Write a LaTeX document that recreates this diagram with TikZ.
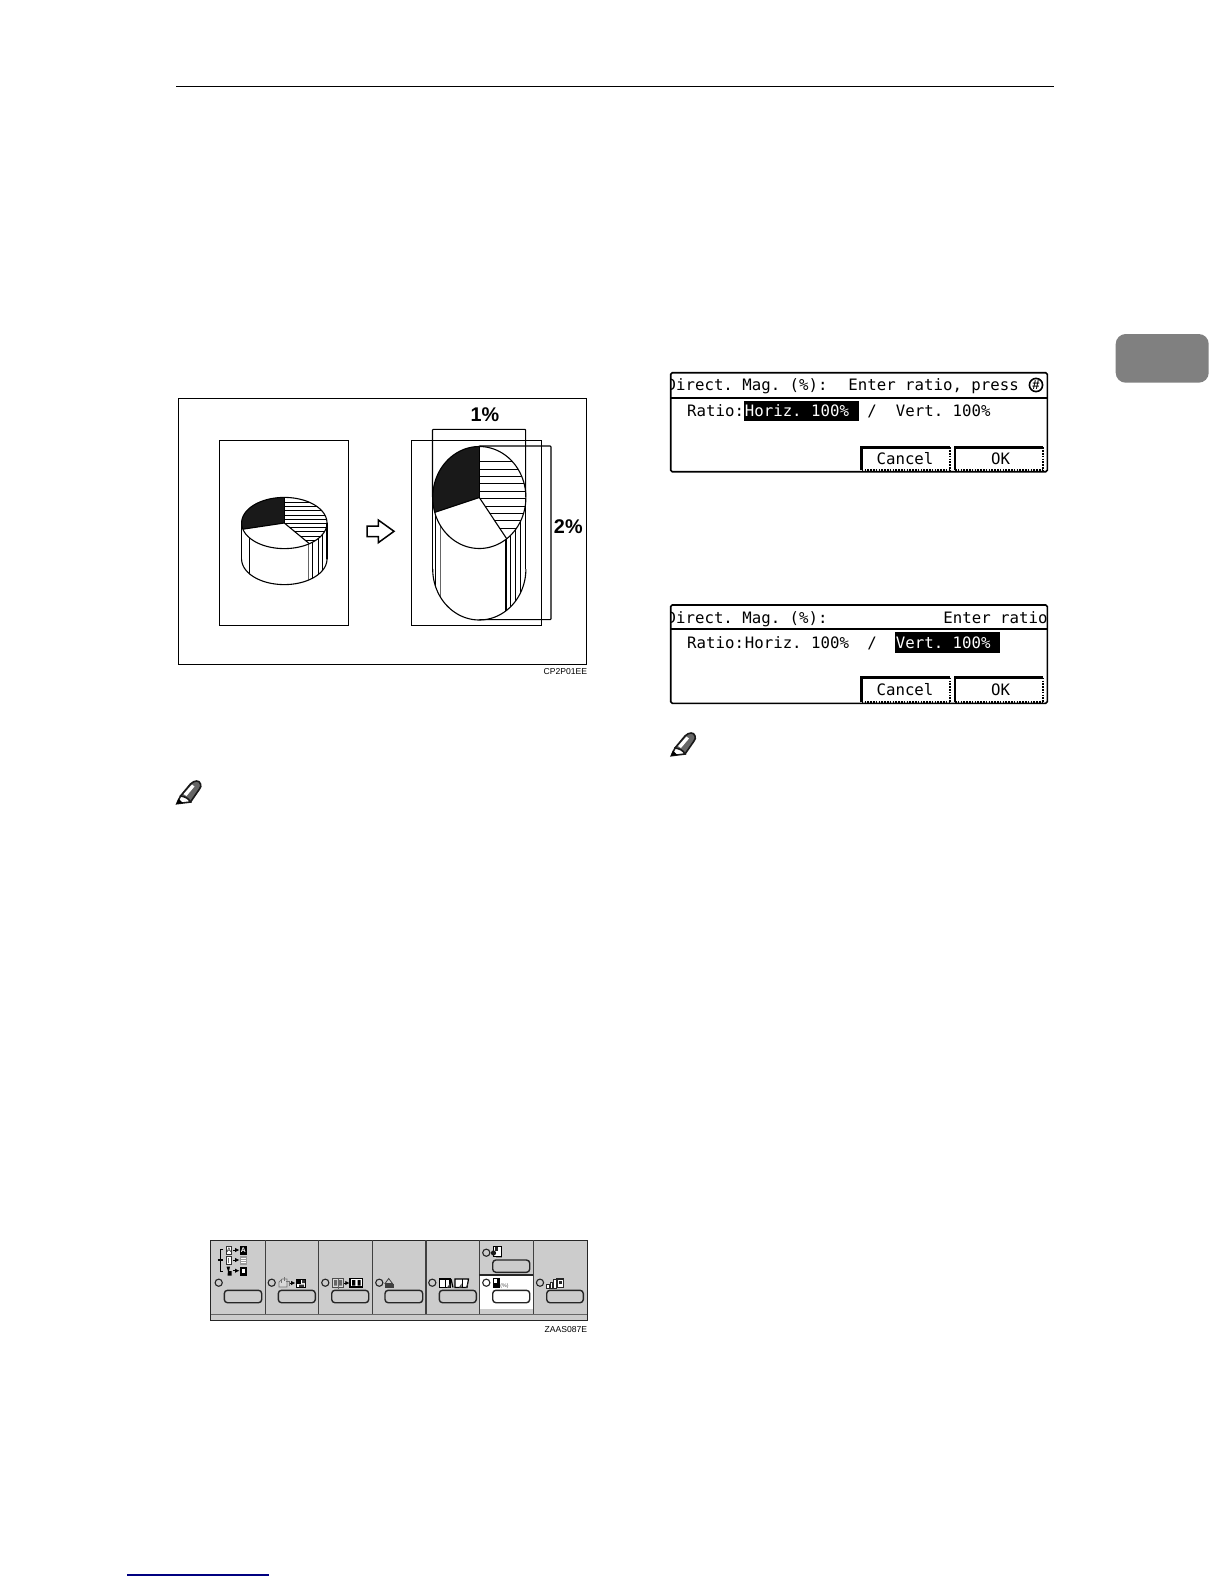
\documentclass[tikz,border=0pt]{standalone}
\usepackage{fontspec}
\usetikzlibrary{arrows.meta}
\setmainfont{Liberation Sans}
\newfontfamily\lcd{DejaVu Sans Mono}
\definecolor{panelgray}{gray}{0.80}
\definecolor{tabgray}{gray}{0.50}
\definecolor{navyline}{RGB}{0,0,128}
\tikzset{
  x=0.5pt,y=-0.5pt,
  thinline/.style={line width=0.55pt,black},
  midline/.style={line width=0.65pt,black},
  lcdtext/.style={anchor=base west,inner sep=0pt,font=\lcd\fontsize{7.86}{9}\selectfont\frenchspacing},
  lcdinv/.style={lcdtext,text=white},
  pct/.style={inner sep=0pt,font=\fontsize{9.9}{11}\selectfont\bfseries},
  code/.style={anchor=base east,inner sep=0pt,font=\fontsize{4.3}{5}\selectfont},
  pbtn/.style={draw=black!85,line width=0.7pt,rounded corners=1.6pt,fill=none},
  pbtnw/.style={pbtn,fill=white},
  led/.style={draw=black!85,line width=0.55pt,fill=none},
  ic/.style={line width=0.35pt,draw=black!80},
  iarrow/.style={-{Latex[length=2.2pt,width=2.2pt]},line width=0.4pt},
}
\newcommand{\lcdbutton}[4]{%
  \fill[white] (#1,#2) rectangle (#3,#4);
  \draw[line width=1.4pt] (#1,#4) -- (#1,#2) -- (#3,#2);
  \draw[line width=1.1pt,dash pattern=on 0.8pt off 0.6pt] (#3,#2) -- (#3,#4);
  \draw[line width=1.1pt,dash pattern=on 0.8pt off 0.6pt] (#1,#4) -- (#3,#4);
}
\newcommand{\pencil}[2]{%
  \begin{scope}[shift={(#1,#2)}]
    \fill[black!60] (4,15) -- (14,3) .. controls (18,-1) and (23,-1) .. (24,3) .. controls (25,5) and (24,6) .. (23,8) -- (14,21) -- cycle;
    \fill[white] (7,13) -- (15.5,3.5) -- (18,5.5) -- (10,15) -- cycle;
    \draw[line width=0.8pt,black!90,fill=white] (4,15) -- (0.3,22.7) -- (14,21) .. controls (12,17) and (8,15.5) .. (4,15) -- cycle;
    \fill[black] (0,23) -- (1.8,17.5) -- (6.5,22) -- cycle;
    \draw[line width=0.8pt,black!90] (4,15) -- (14,3) .. controls (18,-1) and (23,-1) .. (24,3) .. controls (25,5) and (24,6) .. (23,8) -- (14,21);
  \end{scope}
}
\begin{document}
\begin{tikzpicture}
\useasboundingbox (0,0) rectangle (1224,1584);
\fill[white] (0,0) rectangle (1224,1584);
% page furniture
\draw[line width=0.6pt] (176,86.3) coordinate (hl) -- (1054,86.3) coordinate (hr);
\draw[navyline,line width=0.6pt] (127,1575) coordinate (fl) -- (269,1575) coordinate (fr);
\fill[tabgray,rounded corners=5pt] (1115.7,334) rectangle (1208.7,382.7);
% ---------- figure 1
\draw[thinline] (178.3,398.3) rectangle (586.7,664.3);
\draw[thinline] (219.3,440.3) rectangle (348.3,625.3);
\draw[midline] (411.7,440.3) rectangle (541.3,625.3);
% 1% bracket
\draw[thinline,rounded corners=0.4pt] (432.5,497) -- (432.5,429.3) -- (525.6,429.3) -- (525.6,497);
% 2% bracket
\draw[thinline,rounded corners=0.4pt] (479.3,446) -- (551,446) -- (551,619.6) -- (479.3,619.6);
\node[pct] (one) at (485,415) {1\%};
\node[pct] (two) at (568.3,526.7) {2\%};
\node[code] (cpcode) at (587.5,674.5) {CP2P01EE};
% small cylinder
\begin{scope}
  \def\cx{284.3}\def\cy{523}\def\rx{42.7}\def\ry{25.6}\def\hh{36}
  \coordinate (sa) at ({\cx+\rx*cos(194)},{\cy-\ry*sin(194)});
  \coordinate (sb) at ({\cx+\rx*cos(306)},{\cy-\ry*sin(306)});
  \coordinate (sc) at (\cx,\cy);
  \coordinate (st) at (\cx,\cy-\ry);
  \begin{scope}
    \clip plot[domain=180:360,samples=60] ({\cx+\rx*cos(\x)},{\cy-\ry*sin(\x)}) -- plot[domain=360:180,samples=60] ({\cx+\rx*cos(\x)},{\cy+\hh-\ry*sin(\x)}) -- cycle;
    \draw[thinline] (249.3,500) -- (249.3,600);
    \draw[line width=0.8pt,black!60] (308.5,500) -- (308.5,600);
    \draw[thinline] (312.7,500) -- (312.7,600) (318.3,500) -- (318.3,600) (322.7,500) -- (322.7,600);
  \end{scope}
  \begin{scope}
    \clip (sc) -- plot[domain=306:450,samples=60] ({\cx+\rx*cos(\x)},{\cy-\ry*sin(\x)}) -- cycle;
    \foreach \yy in {502.5,506.7,...,545} \draw[line width=0.45pt] (240,\yy) -- (330,\yy);
  \end{scope}
  \fill[black!90] (sc) -- plot[domain=90:194,samples=40] ({\cx+\rx*cos(\x)},{\cy-\ry*sin(\x)}) -- cycle;
  \draw[thinline] plot[domain=0:360,samples=120] ({\cx+\rx*cos(\x)},{\cy-\ry*sin(\x)});
  \draw[thinline] (sa) -- (sc) -- (sb);
  \draw[thinline] (sc) -- (st);
  \draw[thinline] plot[domain=180:360,samples=60] ({\cx+\rx*cos(\x)},{\cy+\hh-\ry*sin(\x)});
  \draw[thinline] (\cx-\rx,\cy) -- (\cx-\rx,\cy+\hh) (\cx+\rx,\cy) -- (\cx+\rx,\cy+\hh);
\end{scope}
% tall cylinder
\begin{scope}
  \def\cx{479.3}\def\cy{497.5}\def\rx{46.6}\def\ry{51}\def\hh{71.5}
  \coordinate (ba) at ({\cx+\rx*cos(197)},{\cy-\ry*sin(197)});
  \coordinate (bb) at ({\cx+\rx*cos(306)},{\cy-\ry*sin(306)});
  \coordinate (bc) at (\cx,\cy);
  \coordinate (bt) at (\cx,\cy-\ry);
  \begin{scope}
    \clip plot[domain=180:360,samples=60] ({\cx+\rx*cos(\x)},{\cy-\ry*sin(\x)}) -- plot[domain=360:180,samples=60] ({\cx+\rx*cos(\x)},{\cy+\hh-\ry*sin(\x)}) -- cycle;
    \draw[thinline] (435.8,480) -- (435.8,640);
    \draw[line width=0.7pt,black!60] (440.7,480) -- (440.7,640);
    \draw[thinline] (506,480) -- (506,640) (510.7,480) -- (510.7,640) (515.7,480) -- (515.7,640) (520.2,480) -- (520.2,640);
  \end{scope}
  \begin{scope}
    \clip (bc) -- plot[domain=306:450,samples=60] ({\cx+\rx*cos(\x)},{\cy-\ry*sin(\x)}) -- cycle;
    \foreach \yy in {461.7,469.1,...,532} \draw[line width=0.45pt] (470,\yy) -- (530,\yy);
  \end{scope}
  \fill[black!90] (bc) -- plot[domain=90:197,samples=40] ({\cx+\rx*cos(\x)},{\cy-\ry*sin(\x)}) -- cycle;
  \draw[thinline] plot[domain=0:360,samples=120] ({\cx+\rx*cos(\x)},{\cy-\ry*sin(\x)});
  \draw[thinline] (ba) -- (bc) -- (bb);
  \draw[thinline] (bc) -- (bt);
  \draw[thinline] plot[domain=180:360,samples=60] ({\cx+\rx*cos(\x)},{\cy+\hh-\ry*sin(\x)});
  \draw[thinline] (\cx-\rx,\cy) -- (\cx-\rx,\cy+\hh) (\cx+\rx,\cy) -- (\cx+\rx,\cy+\hh);
\end{scope}
% hollow arrow
\draw[line width=0.75pt,miter limit=6] (367,526) -- (378.3,526) -- (378.3,520) -- (394,531.3) -- (378.3,542.7) -- (378.3,536.7) -- (367,536.7) -- cycle;
% pencils
\pencil{176.5}{781}
\pencil{671}{733}
% ---------- screen 1
\begin{scope}
  \clip (670.7,372.7) rectangle (1047.3,471.7);
  \fill[black] (744,401) rectangle (859,420.7);
  \node[lcdtext] (t1a) at (666.3,390) {Direct. Mag. (\%):};
  \node[lcdtext] (t1b) at (848,390) {Enter ratio, press};
  \node[lcdtext] (t1c) at (686.8,416.7) {Ratio:};
  \node[lcdinv] (t1d) at (744.5,416.7) {Horiz. 100\%};
  \node[lcdtext] (t1e) at (867,416.7) {/};
  \node[lcdtext] (t1f) at (895.5,416.7) {Vert. 100\%};
  \draw[line width=0.8pt] (1036,385) circle (6.6);
  \node[inner sep=0pt,font=\bfseries\fontsize{6.5}{7}\selectfont] (t1g) at (1036,385) {\#};
  \lcdbutton{861.7}{447.3}{950}{470}
  \lcdbutton{955}{447.3}{1043}{470}
  \node[lcdtext] (t1h) at (876.2,464) {Cancel};
  \node[lcdtext] (t1i) at (990.7,464) {OK};
\end{scope}
\draw[line width=0.8pt,rounded corners=0.8pt] (670.7,372.7) rectangle (1047.3,471.7);
\draw[line width=0.9pt] (670.7,397.7) coordinate (s1a) -- (1047.3,397.7) coordinate (s1b);
% ---------- screen 2
\begin{scope}
  \clip (670.7,605) rectangle (1047.3,703.3);
  \fill[black] (895,632.3) rectangle (1000,652.7);
  \node[lcdtext] (t2a) at (666.3,623.3) {Direct. Mag. (\%):};
  \node[lcdtext] (t2b) at (943,623.3) {Enter ratio};
  \node[lcdtext] (t2c) at (686.8,648.3) {Ratio:};
  \node[lcdtext] (t2d) at (744.5,648.3) {Horiz. 100\%};
  \node[lcdtext] (t2e) at (867,648.3) {/};
  \node[lcdinv] (t2f) at (895.5,648.3) {Vert. 100\%};
  \lcdbutton{861.7}{677.7}{950}{702.3}
  \lcdbutton{955}{677.7}{1043}{702.3}
  \node[lcdtext] (t2h) at (876.2,695) {Cancel};
  \node[lcdtext] (t2i) at (990.7,695) {OK};
\end{scope}
\draw[line width=0.8pt,rounded corners=0.8pt] (670.7,605) rectangle (1047.3,703.3);
\draw[line width=0.9pt] (670.7,629.3) coordinate (s2a) -- (1047.3,629.3) coordinate (s2b);
% ---------- operation panel
\fill[panelgray] (210.7,1240.3) rectangle (587.3,1320.7);
\fill[white] (479.3,1275) rectangle (533.3,1309);
\draw[line width=0.6pt,black!85] (210.7,1240.3) rectangle (587.3,1320.7);
\draw[line width=0.5pt,black!60] (210.7,1314.3) -- (587.3,1314.3);
\foreach \dx in {265.3,318.7,372.3,426,479.3,533.3}
  \draw[line width=0.55pt,black!75] (\dx,1240.3) -- (\dx,1314.3);
\draw[line width=0.6pt,black!85] (479.3,1275) -- (533.3,1275);
% buttons
\draw[pbtn] (224.3,1290.3) rectangle (261.7,1302.7);
\draw[pbtn] (278.3,1290.3) rectangle (315.3,1302.7);
\draw[pbtn] (331.7,1290.3) rectangle (368.7,1302.7);
\draw[pbtn] (385,1290.3) rectangle (422.7,1302.7);
\draw[pbtn] (439.3,1290.3) rectangle (476.3,1302.7);
\draw[pbtn] (492.7,1260) rectangle (529.7,1272.3);
\draw[pbtnw] (492.7,1290.3) rectangle (529.7,1302.7);
\draw[pbtn] (546.7,1290.3) rectangle (583.3,1302.7);
% LEDs
\foreach \lx/\ly in {218.7/1282.7,271.7/1282.7,325.3/1282.7,379.3/1282.7,432.3/1282.7,486.3/1282.7,486.3/1252.7,540/1282.7}
  \draw[led] (\lx,\ly) circle (3.6);
% icon 1: exposure selector
\draw[line width=0.5pt] (223.3,1249.5) -- (220.3,1249.5) -- (220.3,1271) -- (223.3,1271);
\draw[line width=0.7pt] (217.5,1260) -- (223.3,1260);
\foreach \wy in {1250,1260,1270.7} {
  \draw[iarrow] (233,\wy) -- (239.5,\wy);
}
\draw[ic,fill=white] (226,1246) rectangle (231.7,1254.5);
\node[inner sep=0pt,font=\fontsize{3.2}{4}\selectfont] (ia) at (228.9,1250.3) {A};
\fill[black] (240,1245.5) rectangle (246.7,1254.7);
\node[inner sep=0pt,text=white,font=\fontsize{3.4}{4}\selectfont\bfseries] (ib) at (243.3,1250.3) {A};
\draw[ic,fill=white] (226,1256) rectangle (231.7,1264.5);
\fill[black!55] (227.5,1257.5) rectangle (229,1263);
\fill[black!40] (240,1256) rectangle (246.7,1265);
\foreach \wy in {1258.5,1260.5,1262.5} \draw[white,line width=0.3pt] (241,\wy) -- (245.7,\wy);
\fill[black] (226.5,1266.5) -- (230,1266.5) -- (229,1271) -- (231.5,1271) -- (231.5,1275.5) -- (227.5,1275.5) -- (228,1271) -- cycle;
\fill[black] (240,1266.5) rectangle (246.7,1275.5);
\fill[white] (241.7,1268.5) rectangle (245,1273);
% icon 2
\draw[ic,black!55,fill=black!15] (282,1279) -- (287,1279) -- (287,1287) -- (279,1287) -- (279,1282) -- cycle;
\draw[ic,black!55] (284,1277) -- (284,1281) (281,1279) -- (281,1283) (286,1281) -- (289,1281) -- (289,1286);
\draw[iarrow] (289.5,1283) -- (295.5,1283);
\draw[line width=0.45pt,fill=white] (296.5,1279) rectangle (305.5,1287);
\fill[black] (296.5,1279) rectangle (301,1283.5);
\fill[black!80] (302,1280) rectangle (305,1283) (299,1284.5) rectangle (304,1287);
% icon 3
\draw[line width=0.4pt,black!70,fill=black!15] (332.5,1278.5) rectangle (343.5,1287);
\fill[black!60] (334,1280) rectangle (337.2,1285.5) (338.8,1280) rectangle (342,1285.5);
\draw[line width=0.3pt,black!60] (338,1278.5) -- (338,1289);
\draw[iarrow] (344,1283) -- (349.7,1283);
\draw[line width=0.6pt,fill=white] (350,1278.5) rectangle (362.7,1287);
\fill[black] (352.2,1280) rectangle (355.3,1285.5) (357.5,1280) rectangle (360.6,1285.5);
% icon 4
\draw[line width=0.4pt,black!75] (385,1283.5) -- (388.7,1278.5) -- (392.5,1283.5) -- cycle;
\fill[black!75] (385,1284.3) rectangle (393.5,1288);
% icon 5
\draw[line width=0.6pt,fill=white] (439.5,1279) rectangle (450,1287.5);
\draw[line width=0.4pt] (445,1279) -- (445,1287.5);
\fill[black!75] (447,1287.5) -- (450,1283.5) -- (450,1287.5) -- cycle;
\draw[line width=0.6pt] (453,1287.5) -- (451,1279);
\draw[line width=0.6pt,fill=white] (455,1279) -- (468.5,1279) -- (467,1287.5) -- (455,1287.5) -- cycle;
\draw[line width=0.4pt] (462,1279) -- (462,1287.5);
\fill[black!75] (459,1287.5) -- (461.5,1283.5) -- (461.5,1287.5) -- cycle (465.5,1287.5) -- (468,1283.5) -- (467,1287.5) -- cycle;
% icon 6
\draw[line width=0.45pt,fill=white] (493.5,1246) rectangle (501.5,1256);
\fill[black!90] (493.5,1253) circle (2.6);
\fill[black!85] (495,1247) rectangle (498,1251);
\draw[black!45,line width=0.3pt] (496,1257) -- (501.5,1257);
\fill[black] (493,1278) rectangle (500,1288.3);
\fill[white] (493.5,1278.5) rectangle (497,1283);
\node[inner sep=0pt,text=black!70,font=\fontsize{2.6}{3}\selectfont] (ip) at (504.5,1286) {(\%)};
% icon 7
\draw[line width=0.4pt,black!85,fill=white] (546.7,1284) rectangle (549.2,1288);
\draw[line width=0.4pt,black!85,fill=white] (550,1282) rectangle (552.5,1288);
\draw[line width=0.4pt,black!85,fill=white] (553.5,1279.5) rectangle (556,1288);
\draw[line width=0.6pt,black!85,fill=white] (557,1279) rectangle (563.5,1287.5);
\fill[black!85] (558.5,1280.5) rectangle (562,1284);
\node[code] (zcode) at (587.5,1332) {ZAAS087E};
\end{tikzpicture}
\end{document}
